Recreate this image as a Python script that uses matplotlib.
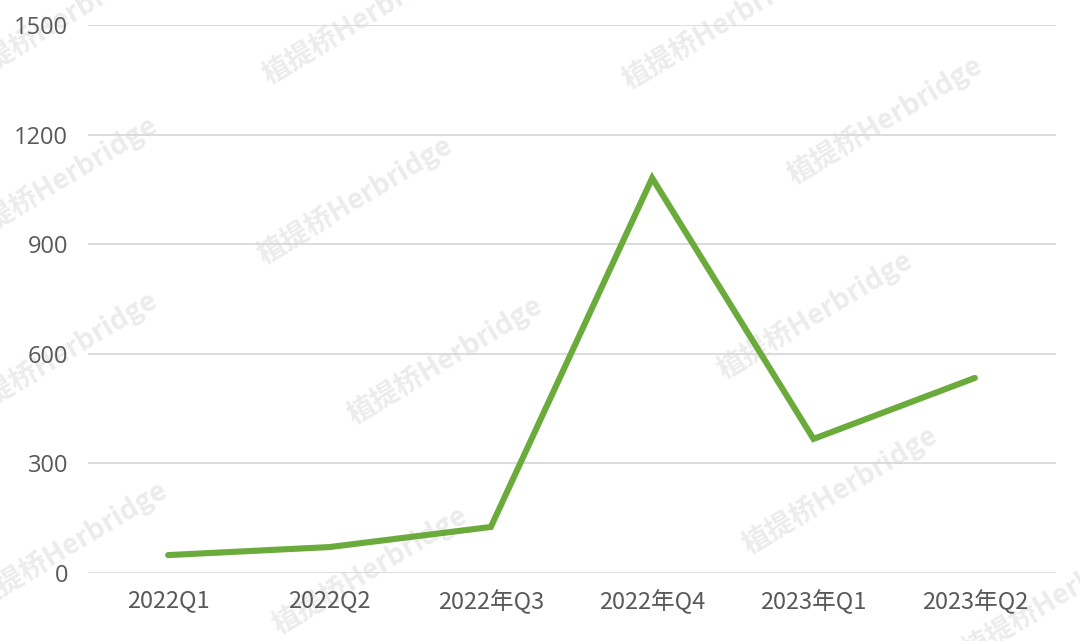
import matplotlib
matplotlib.use("Agg")
import matplotlib.pyplot as plt

categories = ["2022Q1", "2022Q2", "2022年Q3", "2022年Q4", "2023年Q1", "2023年Q2"]
values = [49, 71, 126, 1081, 367, 534]
yticks = [0, 300, 600, 900, 1200, 1500]

plt.rcParams['font.family'] = ['Open Sans', 'Noto Sans CJK SC', 'DejaVu Sans']

W, H = 1080, 641
fig = plt.figure(figsize=(W / 100, H / 100), dpi=100)
ax = fig.add_axes([87.5 / W, 1 - 573 / H, (1055.5 - 87.5) / W, (573 - 25) / H])
ax.set_zorder(1)
ax.patch.set_alpha(0)

x = list(range(len(categories)))
ax.plot(x, values, color="#6aab3c", linewidth=4.4, solid_joinstyle="miter",
        solid_capstyle="round", zorder=3)

ax.set_xlim(-0.5, len(categories) - 0.5)
ax.set_ylim(0, 1500)
ax.set_yticks(yticks)
ax.set_yticklabels([str(v) for v in yticks])
ax.set_xticks(x)
ax.set_xticklabels(categories, family=['Noto Sans CJK SC', 'DejaVu Sans'])
ax.grid(axis="y", color="#d9d9d9", linewidth=1.3, zorder=0)
for s in ax.spines.values():
    s.set_visible(False)
ax.tick_params(length=0, labelsize=17, colors="#595959")
ax.tick_params(axis="y", pad=14)
ax.tick_params(axis="x", pad=12)
for lab in ax.get_xticklabels() + ax.get_yticklabels():
    lab.set_color("#595959")

# watermarks
wm_centers = [(60, 20), (360, 20), (720, 25), (885, 120), (60, 180), (355, 200),
              (815, 315), (60, 355), (445, 360), (840, 490), (70, 545),
              (370, 570), (1060, 595)]
for cx, cy in wm_centers:
    fig.text(cx / W, 1 - cy / H, "植提桥Herbridge", rotation=31,
             ha="center", va="center", fontsize=20, fontweight="bold",
             color="#ececec", family=['Noto Sans CJK SC', 'DejaVu Sans'],
             zorder=-1)

fig.savefig("out.png", dpi=100)
